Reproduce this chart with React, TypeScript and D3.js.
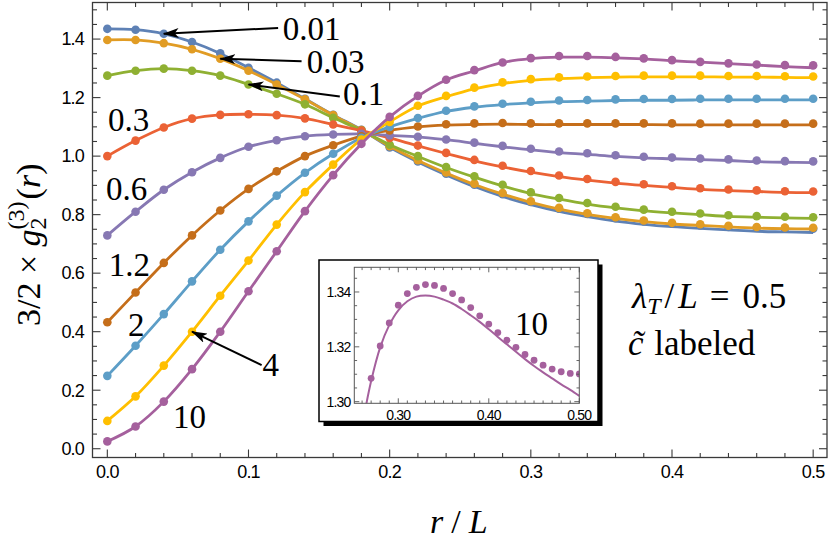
import * as d3 from 'd3'

// r/L grid of the simulation points
const rValues = [0, 0.02, 0.04, 0.06, 0.08, 0.1, 0.12, 0.14, 0.16, 0.18, 0.2, 0.22, 0.24, 0.26, 0.28, 0.3, 0.32, 0.34, 0.36, 0.38, 0.4, 0.42, 0.44, 0.46, 0.48, 0.5]

const cLabels = ['0.01', '0.03', '0.1', '0.3', '0.6', '1.2', '2', '4', '10']
const seriesColors = ['#5E81B5', '#E19C24', '#8FB032', '#EB6235', '#8778B3', '#C56E1A', '#5D9EC7', '#FFBF00', '#A5609D']

// simulation points (dots)
const dots001 = [1.435, 1.432, 1.418, 1.390, 1.351, 1.302, 1.251, 1.196, 1.141, 1.090, 1.030, 0.982, 0.940, 0.902, 0.870, 0.843, 0.820, 0.802, 0.788, 0.777, 0.769, 0.763, 0.758, 0.755, 0.753, 0.752]
const dots003 = [1.397, 1.397, 1.386, 1.365, 1.333, 1.292, 1.245, 1.194, 1.140, 1.089, 1.034, 0.986, 0.944, 0.906, 0.874, 0.846, 0.823, 0.805, 0.791, 0.780, 0.772, 0.767, 0.762, 0.758, 0.756, 0.755]
const dots01 = [1.275, 1.292, 1.299, 1.292, 1.275, 1.245, 1.213, 1.177, 1.131, 1.088, 1.039, 1.000, 0.963, 0.931, 0.902, 0.876, 0.857, 0.840, 0.827, 0.817, 0.810, 0.804, 0.798, 0.795, 0.793, 0.791]
const dots03 = [1.000, 1.053, 1.098, 1.128, 1.141, 1.143, 1.140, 1.129, 1.108, 1.087, 1.062, 1.036, 1.011, 0.987, 0.967, 0.949, 0.934, 0.922, 0.912, 0.904, 0.897, 0.890, 0.886, 0.883, 0.880, 0.879]
const dots06 = [0.729, 0.810, 0.885, 0.945, 0.994, 1.032, 1.054, 1.068, 1.074, 1.076, 1.071, 1.066, 1.057, 1.046, 1.035, 1.025, 1.016, 1.010, 1.003, 0.998, 0.995, 0.992, 0.989, 0.985, 0.983, 0.982]
const dots12 = [0.432, 0.534, 0.635, 0.729, 0.814, 0.888, 0.948, 1.000, 1.037, 1.068, 1.088, 1.101, 1.109, 1.112, 1.113, 1.112, 1.112, 1.112, 1.112, 1.112, 1.112, 1.111, 1.111, 1.111, 1.111, 1.111]
const dots2 = [0.249, 0.352, 0.460, 0.572, 0.680, 0.777, 0.865, 0.943, 1.008, 1.063, 1.100, 1.130, 1.155, 1.170, 1.179, 1.186, 1.190, 1.192, 1.194, 1.195, 1.195, 1.196, 1.196, 1.196, 1.196, 1.196]
const dots4 = [0.095, 0.179, 0.284, 0.400, 0.523, 0.643, 0.766, 0.877, 0.971, 1.057, 1.117, 1.172, 1.206, 1.234, 1.252, 1.263, 1.269, 1.272, 1.274, 1.275, 1.275, 1.275, 1.274, 1.274, 1.273, 1.272]
const dots10 = [0.025, 0.076, 0.161, 0.272, 0.400, 0.538, 0.675, 0.812, 0.935, 1.042, 1.134, 1.206, 1.261, 1.294, 1.320, 1.335, 1.342, 1.342, 1.339, 1.334, 1.328, 1.322, 1.317, 1.313, 1.311, 1.310]

// theory curves on the same grid
const curve001 = [1.435, 1.432, 1.418, 1.390, 1.351, 1.302, 1.251, 1.196, 1.141, 1.090, 1.030, 0.980, 0.936, 0.896, 0.862, 0.834, 0.811, 0.793, 0.778, 0.767, 0.759, 0.753, 0.748, 0.743, 0.741, 0.739]
const curve003 = [1.397, 1.397, 1.386, 1.365, 1.333, 1.292, 1.245, 1.194, 1.140, 1.089, 1.034, 0.985, 0.942, 0.903, 0.870, 0.842, 0.819, 0.801, 0.787, 0.776, 0.768, 0.763, 0.758, 0.754, 0.752, 0.751]
const curve01 = [1.275, 1.292, 1.299, 1.292, 1.275, 1.245, 1.213, 1.177, 1.131, 1.088, 1.039, 0.999, 0.961, 0.928, 0.898, 0.872, 0.853, 0.836, 0.823, 0.813, 0.806, 0.800, 0.794, 0.791, 0.789, 0.787]
const curve03 = [1.000, 1.053, 1.098, 1.128, 1.141, 1.143, 1.140, 1.129, 1.108, 1.087, 1.062, 1.035, 1.009, 0.984, 0.963, 0.945, 0.930, 0.918, 0.908, 0.900, 0.893, 0.886, 0.882, 0.879, 0.876, 0.875]
const curve06 = [0.729, 0.810, 0.885, 0.945, 0.994, 1.032, 1.054, 1.068, 1.074, 1.076, 1.071, 1.066, 1.056, 1.044, 1.032, 1.021, 1.012, 1.006, 0.999, 0.994, 0.991, 0.988, 0.985, 0.981, 0.979, 0.978]
const curve12 = [0.432, 0.534, 0.635, 0.729, 0.814, 0.888, 0.948, 1.000, 1.037, 1.068, 1.088, 1.100, 1.106, 1.108, 1.109, 1.108, 1.108, 1.108, 1.108, 1.108, 1.107, 1.107, 1.107, 1.107, 1.107, 1.107]
const curve2 = [0.249, 0.352, 0.460, 0.572, 0.680, 0.777, 0.865, 0.943, 1.008, 1.063, 1.100, 1.129, 1.153, 1.167, 1.176, 1.182, 1.186, 1.188, 1.190, 1.191, 1.191, 1.192, 1.192, 1.192, 1.192, 1.192]
const curve4 = [0.095, 0.179, 0.284, 0.400, 0.523, 0.643, 0.766, 0.877, 0.971, 1.057, 1.117, 1.171, 1.203, 1.230, 1.248, 1.259, 1.265, 1.268, 1.270, 1.271, 1.271, 1.271, 1.270, 1.270, 1.269, 1.268]
const curve10 = [0.025, 0.076, 0.161, 0.272, 0.400, 0.538, 0.675, 0.812, 0.935, 1.042, 1.134, 1.205, 1.260, 1.291, 1.320, 1.333, 1.338, 1.338, 1.336, 1.332, 1.326, 1.321, 1.316, 1.311, 1.306, 1.302]

const dotSeries = [dots001, dots003, dots01, dots03, dots06, dots12, dots2, dots4, dots10]
const curveSeries = [curve001, curve003, curve01, curve03, curve06, curve12, curve2, curve4, curve10]

// inset (c = 10, zoomed)
const insetR = [0.27, 0.28, 0.29, 0.3, 0.31, 0.32, 0.33, 0.34, 0.35, 0.36, 0.37, 0.38, 0.39, 0.4, 0.41, 0.42, 0.43, 0.44, 0.45, 0.46, 0.47, 0.48, 0.49, 0.5]
const insetDots = [1.3085, 1.3203, 1.3287, 1.3352, 1.3394, 1.3417, 1.3427, 1.3424, 1.3413, 1.3394, 1.3371, 1.3343, 1.3313, 1.3283, 1.3252, 1.3224, 1.3198, 1.3172, 1.3151, 1.3133, 1.3119, 1.3109, 1.3103, 1.3101]
const insetCurveR = [0.26, 0.27, 0.28, 0.29, 0.3, 0.31, 0.32, 0.33, 0.34, 0.35, 0.36, 0.37, 0.38, 0.39, 0.4, 0.41, 0.42, 0.43, 0.44, 0.45, 0.46, 0.47, 0.48, 0.49, 0.5]
const insetCurve = [1.291, 1.3075, 1.3198, 1.3279, 1.3333, 1.3366, 1.3383, 1.3387, 1.3383, 1.3372, 1.3358, 1.3338, 1.3315, 1.3291, 1.3264, 1.3236, 1.3209, 1.3182, 1.3155, 1.313, 1.3107, 1.3085, 1.3063, 1.3043, 1.3021]

const xTicks = [0, 0.1, 0.2, 0.3, 0.4, 0.5]
const yTicks = [0, 0.2, 0.4, 0.6, 0.8, 1.0, 1.2, 1.4]
const insetXTicks = [0.3, 0.4, 0.5]
const insetYTicks = [1.3, 1.32, 1.34]

// annotation placement (data coordinates)
const labelAt = [
  { r: 0.1243, v: 1.398 },
  { r: 0.1413, v: 1.284 },
  { r: 0.1669, v: 1.173 },
  { r: 0.0004, v: 1.087 },
  { r: -0.001, v: 0.851 },
  { r: 0.001, v: 0.591 },
  { r: 0.0146, v: 0.386 },
  { r: 0.110, v: 0.247 },
  { r: 0.0465, v: 0.071 },
]
const arrows = [
  { s: 0, tip: 0.04, r: 0.121, v: 1.438 },
  { s: 1, tip: 0.08, r: 0.1376, v: 1.324 },
  { s: 2, tip: 0.1, r: 0.1647, v: 1.204 },
  { s: 7, tip: 0.06, r: 0.1093, v: 0.286 },
]

const SERIF = '"Liberation Serif", "DejaVu Serif", serif'
const SANS = '"Liberation Sans", Arial, sans-serif'

export default function App() {
  const left = 92.5, right = 827, top = 2.5, bottom = 457.5
  const x = d3.scaleLinear().domain([-0.0105, 0.5098]).range([left, right])
  const y = d3.scaleLinear().domain([-0.03, 1.525]).range([bottom, top])

  const line = d3
    .line<number>()
    .x((_, i) => x(rValues[i]))
    .y((v) => y(v))
    .curve(d3.curveCatmullRom)

  const xMinor = d3.range(0, 26).map((i) => i * 0.02)
  const yMinor = d3.range(0, 31).map((i) => i * 0.05)

  // inset geometry
  const iL = 354.3, iR = 579.3, iT = 267.3, iB = 403.3
  const ix = d3.scaleLinear().domain([0.2514, 0.5]).range([iL, iR])
  const iy = d3.scaleLinear().domain([1.2994, 1.349]).range([iB, iT])
  const insetLine = d3
    .line<number>()
    .x((_, i) => ix(insetCurveR[i]))
    .y((v) => iy(v))
    .curve(d3.curveCatmullRom)
  const ixMinor = d3.range(26, 51).map((i) => i / 100)
  const iyMinor = d3.range(0, 10).map((i) => 1.3 + i * 0.005)

  const frame = '#3a3a3a'
  const major = 8
  const minor = 4.5

  return (
    <div style={{ position: 'fixed', left: 0, top: 0, background: '#fff' }}>
      <svg width={830} height={540} style={{ display: 'block' }}>
        <defs>
          <marker id="arr" viewBox="0 0 16 10" refX={15} refY={5} markerWidth={16} markerHeight={10} markerUnits="userSpaceOnUse" orient="auto">
            <path d="M0,0 L16,5 L0,10 L4,5 Z" fill="#000" />
          </marker>
          <clipPath id="mainClip">
            <rect x={left} y={top} width={right - left} height={bottom - top} />
          </clipPath>
          <clipPath id="insetClip">
            <rect x={iL} y={iT} width={iR - iL} height={iB - iT} />
          </clipPath>
        </defs>
        <rect width={830} height={540} fill="#fff" />

        {/* series */}
        <g clipPath="url(#mainClip)">
          {dotSeries.map((dots, s) => (
            <g key={cLabels[s]}>
              <path d={line(curveSeries[s]) ?? ''} fill="none" stroke={seriesColors[s]} strokeWidth={2.8} strokeLinejoin="round" />
              {dots.map((v, i) => (
                <circle key={i} cx={x(rValues[i])} cy={y(v)} r={4.3} fill={seriesColors[s]} />
              ))}
            </g>
          ))}
        </g>

        {/* frame */}
        <rect x={left} y={top} width={right - left} height={bottom - top} fill="none" stroke={frame} strokeWidth={1.3} />
        {xMinor.map((t) => {
          const len = xTicks.some((m) => Math.abs(m - t) < 1e-6) ? major : minor
          return (
            <g key={'xt' + t}>
              <line x1={x(t)} x2={x(t)} y1={bottom} y2={bottom - len} stroke={frame} strokeWidth={1.1} />
              <line x1={x(t)} x2={x(t)} y1={top} y2={top + len} stroke={frame} strokeWidth={1.1} />
            </g>
          )
        })}
        {yMinor.map((t) => {
          const len = yTicks.some((m) => Math.abs(m - t) < 1e-6) ? major : minor
          return (
            <g key={'yt' + t}>
              <line x1={left} x2={left + len} y1={y(t)} y2={y(t)} stroke={frame} strokeWidth={1.1} />
              <line x1={right} x2={right - len} y1={y(t)} y2={y(t)} stroke={frame} strokeWidth={1.1} />
            </g>
          )
        })}
        {xTicks.map((t) => (
          <text key={'xl' + t} x={x(t)} y={478} textAnchor="middle" fontFamily={SANS} fontSize={18} letterSpacing={-0.8}>
            {t.toFixed(1)}
          </text>
        ))}
        {yTicks.map((t) => (
          <text key={'yl' + t} x={84} y={y(t) + 6.3} textAnchor="end" fontFamily={SANS} fontSize={18} letterSpacing={-0.8}>
            {t.toFixed(1)}
          </text>
        ))}

        {/* axis labels */}
        <text transform="translate(40,326) rotate(-90)" fontFamily={SERIF} fontSize={34}>
          <tspan>3/2 × </tspan>
          <tspan fontStyle="italic">g</tspan>
          <tspan fontSize={24} dy={6}>2</tspan>
          <tspan fontSize={24} dx={-12} dy={-22}>(3)</tspan>
          <tspan dy={16} dx={2}>(</tspan>
          <tspan fontStyle="italic">r</tspan>
          <tspan>)</tspan>
        </text>
        <text x={430} y={533} fontFamily={SERIF} fontSize={34}>
          <tspan fontStyle="italic">r</tspan>
          <tspan dx={8}>/</tspan>
          <tspan dx={8} fontStyle="italic">L</tspan>
        </text>

        {/* series labels and arrows */}
        {cLabels.map((c, s) => (
          <text key={'lab' + c} x={x(labelAt[s].r)} y={y(labelAt[s].v)} fontFamily={SERIF} fontSize={33}>
            {c}
          </text>
        ))}
        {arrows.map((a) => {
          const i = rValues.findIndex((r) => Math.abs(r - a.tip) < 1e-6)
          return (
            <line
              key={'arr' + a.s}
              x1={x(a.r)}
              y1={y(a.v)}
              x2={x(a.tip)}
              y2={y(dotSeries[a.s][i])}
              stroke="#000"
              strokeWidth={2}
              markerEnd="url(#arr)"
            />
          )
        })}

        {/* parameter text */}
        <text x={632} y={308} fontFamily={SERIF} fontSize={35}>
          <tspan fontStyle="italic">λ</tspan>
          <tspan fontStyle="italic" fontSize={24} dy={6}>T</tspan>
          <tspan dy={-6} dx={4}>/</tspan>
          <tspan dx={4} fontStyle="italic">L</tspan>
          <tspan dx={12}>=</tspan>
          <tspan dx={13}>0.5</tspan>
        </text>
        <text x={628} y={355} fontFamily={SERIF} fontSize={35}>
          <tspan fontStyle="italic">{'c\u0303'}</tspan>
          <tspan dx={2}> labeled</tspan>
        </text>

        {/* inset */}
        <rect x={323.5} y={264.5} width={279} height={161.5} fill="#000" />
        <rect x={319} y={260} width={279} height={161.5} fill="#fff" stroke="#000" strokeWidth={1.5} />
        <g clipPath="url(#insetClip)">
          <path d={insetLine(insetCurve) ?? ''} fill="none" stroke={seriesColors[8]} strokeWidth={2} />
          {insetDots.map((v, i) => (
            <circle key={'id' + i} cx={ix(insetR[i])} cy={iy(v)} r={3.4} fill={seriesColors[8]} />
          ))}
        </g>
        <rect x={iL} y={iT} width={iR - iL} height={iB - iT} fill="none" stroke="#555" strokeWidth={1} />
        {ixMinor.map((t) => {
          const len = insetXTicks.some((m) => Math.abs(m - t) < 1e-6) ? 5 : 2.8
          return (
            <g key={'ixt' + t}>
              <line x1={ix(t)} x2={ix(t)} y1={iB} y2={iB - len} stroke="#555" strokeWidth={0.9} />
              <line x1={ix(t)} x2={ix(t)} y1={iT} y2={iT + len} stroke="#555" strokeWidth={0.9} />
            </g>
          )
        })}
        {iyMinor.map((t) => {
          const len = insetYTicks.some((m) => Math.abs(m - t) < 1e-6) ? 5 : 2.8
          return (
            <g key={'iyt' + t}>
              <line x1={iL} x2={iL + len} y1={iy(t)} y2={iy(t)} stroke="#555" strokeWidth={0.9} />
              <line x1={iR} x2={iR - len} y1={iy(t)} y2={iy(t)} stroke="#555" strokeWidth={0.9} />
            </g>
          )
        })}
        {insetXTicks.map((t) => (
          <text key={'ixl' + t} x={ix(t)} y={419.5} textAnchor="middle" fontFamily={SANS} fontSize={14} letterSpacing={-0.8}>
            {t.toFixed(2)}
          </text>
        ))}
        {insetYTicks.map((t) => (
          <text key={'iyl' + t} x={350.5} y={iy(t) + 5} textAnchor="end" fontFamily={SANS} fontSize={14} letterSpacing={-0.8}>
            {t.toFixed(2)}
          </text>
        ))}
        <text x={ix(0.429)} y={iy(1.3243)} fontFamily={SERIF} fontSize={33}>
          10
        </text>
      </svg>
    </div>
  )
}
